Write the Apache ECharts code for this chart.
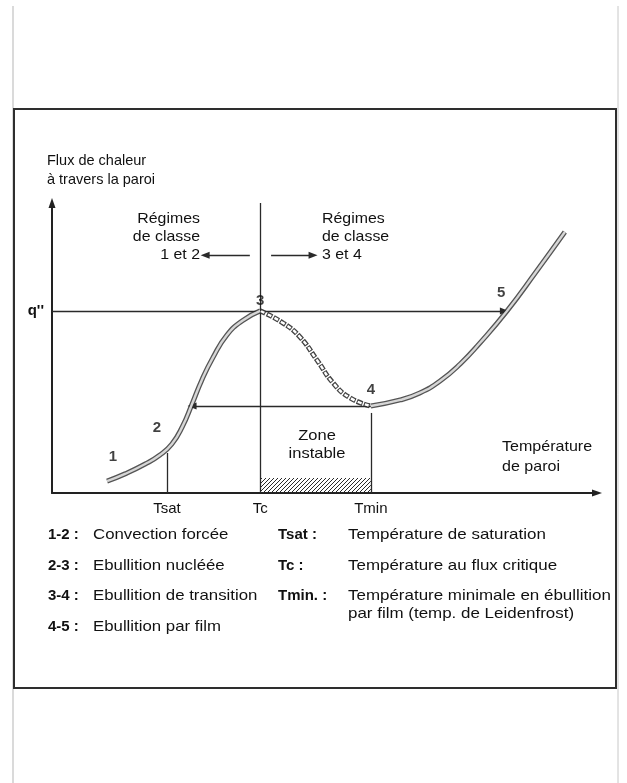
<!DOCTYPE html>
<html>
<head>
<meta charset="utf-8">
<script src="https://cdn.jsdelivr.net/npm/echarts@6/dist/echarts.min.js"></script>
<style>
  html, body { margin: 0; padding: 0; background: #fff; }
  #chart { width: 627px; height: 783px; }
</style>
</head>
<body>
<div id="chart"></div>
<script>
// Boiling curve: heat flux through the wall vs wall temperature (arbitrary units, 0-100)

// Curve 1 -> 3: forced convection then nucleate boiling up to the critical flux
const curveRise = [[10.1, 4.1], [13.4, 6.6], [17.1, 10.0], [19.8, 13.1], [22.0, 16.9],
                   [23.9, 22.8], [25.7, 30.7], [27.5, 39.0], [29.5, 46.6], [32.1, 54.5],
                   [35.0, 59.5], [38.2, 62.8]];
// Curve 3 -> 4: transition boiling
const curveTransition = [[38.2, 62.8], [42.4, 58.6], [45.5, 53.8], [48.6, 45.9],
                         [51.6, 37.9], [54.7, 32.8], [58.5, 30.0]];
// Curve 4 -> 5: film boiling
const curveFilm = [[58.5, 30.0], [63.9, 32.1], [67.5, 34.5], [71.2, 38.6], [74.9, 44.5],
                   [78.5, 51.7], [83.5, 62.8], [88.8, 76.2], [94.1, 90.0]];

// Characteristic temperatures on the x axis
const tempNames = ['Tsat', 'Tc', 'Tmin'];
const tempValues = [21.1, 38.2, 58.5];
// Heights where the Tsat / Tc / Tmin guide lines stop
const guideTops = [13.8, 100, 27.6];

const qCritical = 62.8;   // q''
const qMinimum = 30.0;    // flux at point 4
const arrowToFilm = 83.0; // q'' arrow ends on the film-boiling branch
const returnTemp = 25.7;  // where the flux drop from 4 lands back on the curve
const unstableHeight = 5.2;

// Numbered points on the curve
const pointNames = ['1', '2', '3', '4', '5'];
const pointCoords = [[10.1, 4.1], [21.1, 15.9], [38.2, 62.8], [58.5, 30.0], [83.5, 62.8]];

// Regime arrows either side of Tc
const regimeLevel = 82;
const regimeLeft = [36.3, 28.1];
const regimeRight = [40.2, 47.9];

// Legend rows
const legendCodes = ['1-2 :', '2-3 :', '3-4 :', '4-5 :'];
const legendTexts = ['Convection forcée', 'Ebullition nucléée', 'Ebullition de transition', 'Ebullition par film'];
const symbolCodes = ['Tsat :', 'Tc :', 'Tmin. :'];
const symbolTexts = ['Température de saturation', 'Température au flux critique',
                     'Température minimale en ébullition\npar film (temp. de Leidenfrost)'];

const FONT = '"Liberation Sans", Arial, Helvetica, sans-serif';
const INK = '#111';

function hatchPattern() {
  const c = document.createElement('canvas');
  c.width = 4; c.height = 4;
  const g = c.getContext('2d');
  g.strokeStyle = '#2a2a2a';
  g.lineWidth = 1;
  g.beginPath();
  g.moveTo(0, 4); g.lineTo(4, 0);
  g.moveTo(-1, 1); g.lineTo(1, -1);
  g.moveTo(3, 5); g.lineTo(5, 3);
  g.stroke();
  return c;
}

function txt(x, y, text, o) {
  o = o || {};
  return {
    type: 'text', x: x, y: y, scaleX: o.sx || 1, silent: true, z: 10,
    style: {
      text: text, fill: INK,
      font: (o.bold ? 'bold ' : '') + (o.size || 15) + 'px ' + FONT,
      align: o.align || 'left', verticalAlign: 'middle',
      lineHeight: o.lh || 18
    }
  };
}

// Hollow stroke: dark outline with a light core
function curveSeries(data, core) {
  return [
    { type: 'line', data: data, smooth: 0.5, symbol: 'none', silent: true, z: 4,
      lineStyle: { color: '#555', width: 5 } },
    { type: 'line', data: data, smooth: 0.5, symbol: 'none', silent: true, z: 5,
      lineStyle: { color: core, width: 2.4 } }
  ];
}

// Beaded stroke for the transition branch: dark rings with white centres
function beadSeries(data) {
  return [
    { type: 'line', data: data, smooth: 0.5, symbol: 'none', silent: true, z: 4,
      lineStyle: { color: '#444', width: 5, type: [6, 1.5] } },
    { type: 'line', data: data, smooth: 0.5, symbol: 'none', silent: true, z: 5,
      lineStyle: { color: '#fff', width: 2.4, type: [4, 3.5], dashOffset: -1 } }
  ];
}

const chart = echarts.init(document.getElementById('chart'), null, { renderer: 'canvas' });

const graphics = [
  // page edges and frame
  { type: 'line', shape: { x1: 13, y1: 6, x2: 13, y2: 783 }, style: { stroke: '#b5b5b5', lineWidth: 1 } },
  { type: 'line', shape: { x1: 618, y1: 6, x2: 618, y2: 783 }, style: { stroke: '#c8c8c8', lineWidth: 1 } },
  { type: 'rect', shape: { x: 14, y: 109, width: 602, height: 579 },
    style: { fill: 'none', stroke: '#2e2e2e', lineWidth: 2 } },
  // axis titles
  txt(47, 170, 'Flux de chaleur\nà travers la paroi', { size: 14.5, lh: 19 }),
  txt(502, 457, 'Température\nde paroi', { size: 15, sx: 1.07, lh: 20 }),
  // regime annotations
  txt(200, 237, 'Régimes\nde classe\n1 et 2', { size: 15, sx: 1.06, align: 'right' }),
  txt(322, 237, 'Régimes\nde classe\n3 et 4', { size: 15, sx: 1.06 }),
  txt(317, 445, 'Zone\ninstable', { size: 15, sx: 1.1, align: 'center' })
];

const rowsY = [535, 566, 596, 627];
legendCodes.forEach(function (c, i) {
  graphics.push(txt(48, rowsY[i], c, { bold: true, size: 15 }));
  graphics.push(txt(93, rowsY[i], legendTexts[i], { size: 15, sx: 1.12 }));
});
symbolCodes.forEach(function (c, i) {
  graphics.push(txt(278, rowsY[i], c, { bold: true, size: 15 }));
  graphics.push(txt(348, rowsY[i] + (i === 2 ? 9 : 0), symbolTexts[i], { size: 15, sx: 1.13 }));
});

const option = {
  animation: false,
  backgroundColor: '#fff',
  grid: { left: 52, right: 30, top: 203, bottom: 290 },
  xAxis: {
    type: 'value', min: 0, max: 100,
    splitLine: { show: false },
    axisTick: { show: false },
    axisLine: { lineStyle: { color: '#222', width: 2 }, symbol: ['none', 'triangle'], symbolSize: [7, 10] },
    axisLabel: {
      customValues: tempValues, margin: 8,
      fontSize: 15, fontFamily: FONT, color: INK,
      formatter: function (v) { return tempNames[tempValues.indexOf(v)] || ''; }
    }
  },
  yAxis: {
    type: 'value', min: 0, max: 100,
    splitLine: { show: false },
    axisTick: { show: false },
    axisLine: { lineStyle: { color: '#222', width: 2 }, symbol: ['none', 'triangle'], symbolSize: [7, 10] },
    axisLabel: {
      customValues: [qCritical], margin: 8,
      fontSize: 15, fontWeight: 'bold', fontFamily: FONT, color: INK,
      formatter: function () { return "q''"; }
    }
  },
  graphic: graphics,
  series: [
    // guide lines and hatched unstable zone
    {
      type: 'line', data: [], silent: true, z: 3,
      markLine: {
        silent: true, symbol: ['none', 'none'], label: { show: false },
        lineStyle: { color: '#2a2a2a', width: 1.3, type: 'solid' },
        data: tempValues.map(function (t, i) { return [{ coord: [t, 0] }, { coord: [t, guideTops[i]] }]; })
      },
      markArea: {
        silent: true, label: { show: false },
        itemStyle: { color: { image: hatchPattern(), repeat: 'repeat' } },
        data: [[{ coord: [tempValues[1], 0] }, { coord: [tempValues[2], unstableHeight] }]]
      }
    },
    // arrows: critical flux, drop back from point 4, regime directions
    {
      type: 'line', data: [], silent: true, z: 3,
      markLine: {
        silent: true, symbol: ['none', 'triangle'], symbolSize: [7, 9], label: { show: false },
        lineStyle: { color: '#2a2a2a', width: 1.3, type: 'solid' },
        data: [
          [{ coord: [0, qCritical] }, { coord: [arrowToFilm, qCritical] }],
          [{ coord: [tempValues[2], qMinimum] }, { coord: [returnTemp, qMinimum] }],
          [{ coord: [regimeLeft[0], regimeLevel] }, { coord: [regimeLeft[1], regimeLevel] }],
          [{ coord: [regimeRight[0], regimeLevel] }, { coord: [regimeRight[1], regimeLevel] }]
        ]
      }
    }
  ]
    .concat(curveSeries(curveRise, '#d6d6d6'))
    .concat(beadSeries(curveTransition))
    .concat(curveSeries(curveFilm, '#d6d6d6'))
    .concat([{
      // numbered points
      type: 'scatter', silent: true, z: 8, symbolSize: 0,
      data: pointNames.map(function (n, i) { return { name: n, value: pointCoords[i] }; }),
      label: {
        show: true, formatter: '{b}', fontSize: 15, fontWeight: 'bold', fontFamily: FONT, color: INK,
        position: 'inside'
      },
      labelLayout: function (p) {
        const off = { '1': [6, -24], '2': [-10, -19], '3': [0, -10], '4': [0, -16], '5': [-6, -18] };
        const o = off[pointNames[p.dataIndex]];
        return { dx: o[0], dy: o[1] };
      }
    }])
};

chart.setOption(option);
</script>
</body>
</html>
